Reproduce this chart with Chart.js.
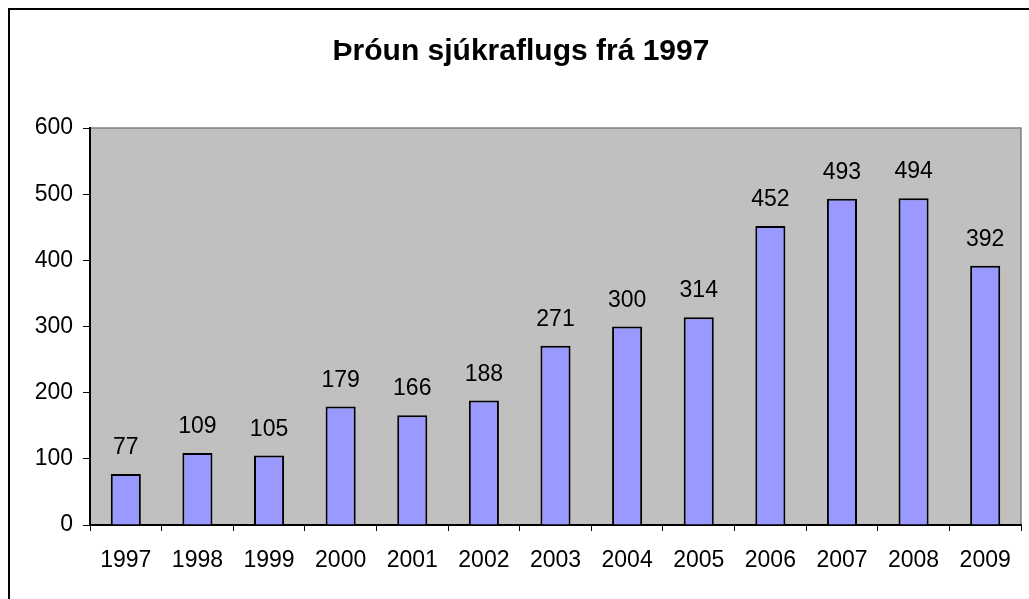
<!DOCTYPE html>
<html>
<head>
<meta charset="utf-8">
<script src="https://cdn.jsdelivr.net/npm/chart.js@4/dist/chart.umd.min.js"></script>
<style>
  html, body { margin: 0; padding: 0; background: #fff; }
  #wrap { width: 1029px; height: 599px; }
</style>
</head>
<body>
<div id="wrap"><canvas id="myChart" width="1029" height="599"></canvas></div>
<script>
'use strict';

const years = ['1997', '1998', '1999', '2000', '2001', '2002', '2003', '2004', '2005', '2006', '2007', '2008', '2009'];
const flights = [77, 109, 105, 179, 166, 188, 271, 300, 314, 452, 493, 494, 392];
const yTicks = [0, 100, 200, 300, 400, 500, 600];
const chartTitle = 'Þróun sjúkraflugs frá 1997';

const fontFamily = '"Liberation Sans", Arial, sans-serif';

// background, outer frame and title
const framePlugin = {
  id: 'frame',
  beforeDraw(chart) {
    const ctx = chart.ctx;
    const a = chart.chartArea;
    ctx.save();
    ctx.fillStyle = '#fff';
    ctx.fillRect(0, 0, chart.width, chart.height);
    ctx.strokeStyle = '#000';
    ctx.lineWidth = 2;
    ctx.strokeRect(9, 9, chart.width + 20, chart.height + 20);
    ctx.fillStyle = '#c0c0c0';
    ctx.fillRect(a.left, a.top, a.right - a.left, a.bottom - a.top);
    ctx.strokeStyle = '#808080';
    ctx.lineWidth = 1.5;
    ctx.beginPath();
    ctx.moveTo(a.left, a.top);
    ctx.lineTo(a.right, a.top);
    ctx.lineTo(a.right, a.bottom);
    ctx.stroke();
    ctx.fillStyle = '#000';
    ctx.font = 'bold 30px ' + fontFamily;
    ctx.textAlign = 'center';
    ctx.textBaseline = 'alphabetic';
    ctx.fillText(chartTitle, 521, 60);
    ctx.restore();
  },
  afterDatasetsDraw(chart) {
    const ctx = chart.ctx;
    const meta = chart.getDatasetMeta(0);
    ctx.save();
    ctx.fillStyle = '#000';
    ctx.font = '23px ' + fontFamily;
    ctx.textAlign = 'center';
    ctx.textBaseline = 'alphabetic';
    meta.data.forEach(function(bar, i) {
      ctx.fillText(String(flights[i]), bar.x, bar.y - 20);
    });
    ctx.restore();
  }
};

const ctx = document.getElementById('myChart').getContext('2d');
const myChart = new Chart(ctx, {
  type: 'bar',
  data: {
    labels: years,
    datasets: [{
      data: flights,
      backgroundColor: '#9999ff',
      borderColor: '#000',
      borderWidth: 2,
      barPercentage: 0.42,
      categoryPercentage: 1
    }]
  },
  options: {
    responsive: false,
    animation: false,
    events: [],
    layout: { padding: { top: 128, right: 8, left: 0, bottom: 0 } },
    plugins: {
      legend: { display: false },
      title: { display: false },
      tooltip: { enabled: false }
    },
    scales: {
      x: {
        afterFit(scale) { scale.height = 74; },
        grid: { offset: true, drawOnChartArea: false, tickLength: 6, color: '#000', lineWidth: 1 },
        border: { color: '#000', width: 2 },
        ticks: { color: '#000', font: { family: fontFamily, size: 23 }, padding: 16, maxRotation: 0 }
      },
      y: {
        min: 0,
        max: 600,
        afterFit(scale) { scale.width = 90; },
        afterBuildTicks(scale) { scale.ticks = yTicks.map(v => ({ value: v })); },
        grid: { drawOnChartArea: false, tickLength: 7, color: '#000', lineWidth: 1 },
        border: { color: '#000', width: 2 },
        ticks: { color: '#000', font: { family: fontFamily, size: 23 }, padding: 10 }
      }
    }
  },
  plugins: [framePlugin]
});
</script>
</body>
</html>
